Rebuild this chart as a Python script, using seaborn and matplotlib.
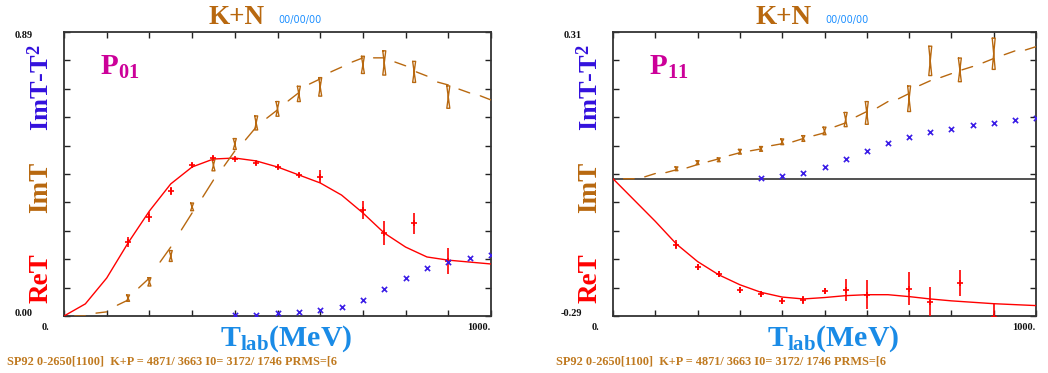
import matplotlib
matplotlib.use("Agg")
import numpy as np
import pandas as pd
import matplotlib.pyplot as plt
import seaborn as sns

# ---------------- data ----------------
# energy grids (MeV)
t_re_curve = [0, 50, 100, 150, 200, 250, 300, 350, 400, 450, 500,
              550, 600, 650, 700, 750, 800, 850, 900, 950, 1000]
t_im_curve = [0, 25, 50, 75, 100, 125, 150, 175, 200, 225, 250, 275, 300,
              325, 350, 375, 400, 425, 450, 475, 500, 525, 550, 575, 600,
              625, 650, 675, 700, 725, 750, 775, 800, 825, 850, 875, 900,
              925, 950, 975, 1000]

# P01 panel
p01_re_curve = [0.0, 0.038, 0.119, 0.229, 0.329, 0.414, 0.467, 0.492, 0.495,
                0.486, 0.467, 0.442, 0.417, 0.379, 0.323, 0.260, 0.216,
                0.185, 0.175, 0.169, 0.163]
p01_im_curve = [0.0, 0.0, 0.0, 0.009, 0.013, 0.034, 0.050, 0.088, 0.119,
                0.169, 0.216, 0.270, 0.323, 0.373, 0.426, 0.470, 0.517,
                0.552, 0.592, 0.620, 0.646, 0.674, 0.700, 0.727, 0.743,
                0.765, 0.780, 0.796, 0.809, 0.809, 0.809, 0.796, 0.784,
                0.765, 0.752, 0.733, 0.724, 0.711, 0.699, 0.690, 0.677]
p01_re_t = [150, 200, 250, 300, 350, 400, 450, 500, 550, 600, 700, 750, 820, 900]
p01_re_v = [0.232, 0.310, 0.392, 0.473, 0.495, 0.492, 0.480, 0.467, 0.442,
            0.436, 0.332, 0.260, 0.290, 0.172]
p01_re_e = [0.016, 0.016, 0.013, 0.008, 0.005, 0.004, 0.006, 0.005, 0.005,
            0.020, 0.028, 0.038, 0.033, 0.041]
p01_im_t = [150, 200, 250, 300, 350, 400, 450, 500, 550, 600, 700, 750, 820, 900]
p01_im_v = [0.056, 0.107, 0.188, 0.342, 0.473, 0.539, 0.605, 0.649, 0.696,
            0.718, 0.787, 0.793, 0.765, 0.686]
p01_im_e = [0.010, 0.013, 0.017, 0.012, 0.018, 0.017, 0.022, 0.023, 0.024,
            0.029, 0.027, 0.038, 0.033, 0.035]
p01_imt2_t = [400, 450, 500, 550, 600, 650, 700, 750, 800, 850, 900, 950, 1000]
p01_imt2_v = [0.003, 0.003, 0.009, 0.013, 0.019, 0.028, 0.050, 0.085, 0.119,
              0.150, 0.169, 0.182, 0.190]

# P11 panel
p11_re_curve = [0.0, -0.045, -0.090, -0.138, -0.175, -0.203, -0.224, -0.240,
                -0.250, -0.254, -0.251, -0.247, -0.245, -0.245, -0.249,
                -0.254, -0.258, -0.261, -0.264, -0.266, -0.268]
p11_im_curve = [0.0, 0.0, 0.0, 0.004, 0.011, 0.013, 0.019, 0.023, 0.030,
                0.036, 0.042, 0.049, 0.055, 0.059, 0.063, 0.070, 0.074,
                0.078, 0.085, 0.091, 0.097, 0.110, 0.118, 0.131, 0.142,
                0.150, 0.163, 0.169, 0.180, 0.197, 0.207, 0.214, 0.222,
                0.230, 0.237, 0.245, 0.254, 0.262, 0.270, 0.272, 0.279]
p11_re_t = [150, 200, 250, 300, 350, 400, 450, 500, 550, 600, 700, 750, 820, 900]
p11_re_v = [-0.139, -0.186, -0.201, -0.235, -0.243, -0.258, -0.256, -0.237,
            -0.235, -0.245, -0.232, -0.260, -0.220, -0.292]
p11_re_e = [0.0095, 0.006, 0.006, 0.006, 0.006, 0.006, 0.008, 0.006, 0.023,
            0.031, 0.034, 0.031, 0.028, 0.029]
p11_im_t = [150, 200, 250, 300, 350, 400, 450, 500, 550, 600, 700, 750, 820, 900]
p11_im_v = [0.021, 0.034, 0.040, 0.057, 0.063, 0.078, 0.085, 0.101, 0.125,
            0.139, 0.169, 0.249, 0.230, 0.264]
p11_im_e = [0.004, 0.004, 0.004, 0.005, 0.005, 0.006, 0.006, 0.008, 0.015,
            0.024, 0.027, 0.031, 0.025, 0.033]
p11_imt2_t = [350, 400, 450, 500, 550, 600, 650, 700, 750, 800, 850, 900, 950, 1000]
p11_imt2_v = [0.002, 0.006, 0.013, 0.025, 0.042, 0.059, 0.076, 0.089, 0.099,
              0.106, 0.114, 0.118, 0.125, 0.129]

panels = [
    dict(name="01", ylim=(0.0, 0.89), ylo="0.00", yhi="0.89",
         re_curve=p01_re_curve, im_curve=p01_im_curve,
         re_t=p01_re_t, re_v=p01_re_v, re_e=p01_re_e,
         im_t=p01_im_t, im_v=p01_im_v, im_e=p01_im_e,
         b_t=p01_imt2_t, b_v=p01_imt2_v, zero=False),
    dict(name="11", ylim=(-0.29, 0.31), ylo="-0.29", yhi="0.31",
         re_curve=p11_re_curve, im_curve=p11_im_curve,
         re_t=p11_re_t, re_v=p11_re_v, re_e=p11_re_e,
         im_t=p11_im_t, im_v=p11_im_v, im_e=p11_im_e,
         b_t=p11_imt2_t, b_v=p11_imt2_v, zero=True),
]

# ---------------- style ----------------
sns.set_style("ticks")
plt.rcParams["font.family"] = ["Liberation Serif", "DejaVu Serif"]
plt.rcParams["mathtext.fontset"] = "custom"
plt.rcParams["mathtext.rm"] = "Liberation Serif:bold"
plt.rcParams["mathtext.it"] = "Liberation Serif:bold"
plt.rcParams["mathtext.bf"] = "Liberation Serif:bold"

RED = "#ff0000"
BROWN = "#b8680f"
BLUE_M = "#3a1de6"
BLUE_LBL = "#3311dd"
TLAB = "#1a8be6"
DATE = "#1e90ff"
MAG = "#cc0099"

W, H = 1048, 373
fig = plt.figure(figsize=(W / 100, H / 100), dpi=100)

axes_px = [(64, 32, 491, 316), (613, 32, 1036, 316)]

for p, (x0, y0, x1, y1) in zip(panels, axes_px):
    ax = fig.add_axes([x0 / W, 1 - y1 / H, (x1 - x0) / W, (y1 - y0) / H])
    ax.set_xlim(0, 1000)
    ax.set_ylim(*p["ylim"])
    lo, hi = p["ylim"]
    ax.set_xticks(np.linspace(0, 1000, 11))
    ax.set_yticks(np.linspace(lo, hi, 11))
    ax.tick_params(direction="in", length=4, width=1, top=True, right=True,
                   labelbottom=False, labelleft=False, color="#222222")
    for s in ax.spines.values():
        s.set_linewidth(1.3)
        s.set_color("#333333")

    if p["zero"]:
        ax.axhline(0, color="#333333", lw=1.2, zorder=1)

    # ReT curve
    df_re = pd.DataFrame({"T": t_re_curve, "v": p["re_curve"]})
    sns.lineplot(data=df_re, x="T", y="v", ax=ax, color=RED, lw=1.0,
                 sort=False, estimator=None, zorder=3)

    # ImT dashed curve: alternate 25-MeV segments
    xs, ys = [], []
    tc, vc = t_im_curve, p["im_curve"]
    for i in range(1, len(tc) - 1, 2):
        xs += [tc[i], tc[i + 1], np.nan]
        ys += [vc[i], vc[i + 1], np.nan]
    ax.plot(xs, ys, color=BROWN, lw=1.0, zorder=3)

    # ReT data
    ax.errorbar(p["re_t"], p["re_v"], yerr=p["re_e"], fmt="+", color=RED,
                ms=4, mew=1.2, elinewidth=1.2, capsize=0, zorder=4)

    # ImT data: hourglass boxes
    w = 3.5
    hx, hy = [], []
    for t, v, e in zip(p["im_t"], p["im_v"], p["im_e"]):
        hx += [t - w, t + w, t - w, t + w, t - w, np.nan]
        hy += [v + e, v + e, v - e, v - e, v + e, np.nan]
    ax.plot(hx, hy, color=BROWN, lw=1.0, zorder=4)

    # ImT - T^2 markers
    df_b = pd.DataFrame({"T": p["b_t"], "v": p["b_v"]})
    sns.scatterplot(data=df_b, x="T", y="v", ax=ax, marker="x", color=BLUE_M,
                    s=14, linewidth=1.2, zorder=5)
    ax.set_xlabel("")
    ax.set_ylabel("")

    # panel label
    ax.text(0.085, 0.925, r"$\mathrm{P_{%s}}$" % p["name"], transform=ax.transAxes,
            color=MAG, fontsize=21, ha="left", va="top")

    # corner texts
    fig.text((x0 - 31) / W, 1 - 36 / H, p["yhi"], ha="right", va="center",
             fontsize=7.5, fontweight="bold", color="#111111")
    fig.text((x0 - 31) / W, 1 - 313 / H, p["ylo"], ha="right", va="center",
             fontsize=7.5, fontweight="bold", color="#111111")
    fig.text((x0 - 18) / W, 1 - 327 / H, "0.", ha="center", va="center",
             fontsize=7.5, fontweight="bold", color="#111111")
    fig.text((x1 - 12) / W, 1 - 327 / H, "1000.", ha="center", va="center",
             fontsize=7.5, fontweight="bold", color="#111111")

    # title
    cx = (x0 + x1) / 2 - 41
    fig.text(cx / W, 1 - 17 / H, "K+N", ha="center", va="center",
             fontsize=19.5, fontweight="bold", color=BROWN)
    fig.text((cx + 42) / W, 1 - 20 / H, "00/00/00", ha="left", va="center",
             fontsize=7, color=DATE, family="DejaVu Sans")

    # x label
    fig.text(((x0 + x1) / 2 + 9) / W, 1 - 339 / H, r"$\mathrm{T_{lab}(MeV)}$",
             ha="center", va="center", fontsize=21.5, color=TLAB)

    # y labels
    lx = (x0 - 23) / W
    fig.text(lx, 1 - 278 / H, "ReT", rotation=90, ha="center", va="center",
             fontsize=19.5, fontweight="bold", color=RED)
    fig.text(lx, 1 - 187 / H, "ImT", rotation=90, ha="center", va="center",
             fontsize=19.5, fontweight="bold", color=BROWN)
    fig.text(lx, 1 - 88 / H, r"$\mathrm{ImT\text{-}T^{2}}$", rotation=90,
             ha="center", va="center", fontsize=19, color=BLUE_LBL)

    # footer
    fig.text((x0 - 57) / W, 1 - 362 / H,
             "SP92 0-2650[1100]  K+P = 4871/ 3663 I0= 3172/ 1746 PRMS=[6",
             ha="left", va="center", fontsize=8.8, fontweight="bold",
             color="#c07a20")

fig.savefig("out.png", dpi=100)
